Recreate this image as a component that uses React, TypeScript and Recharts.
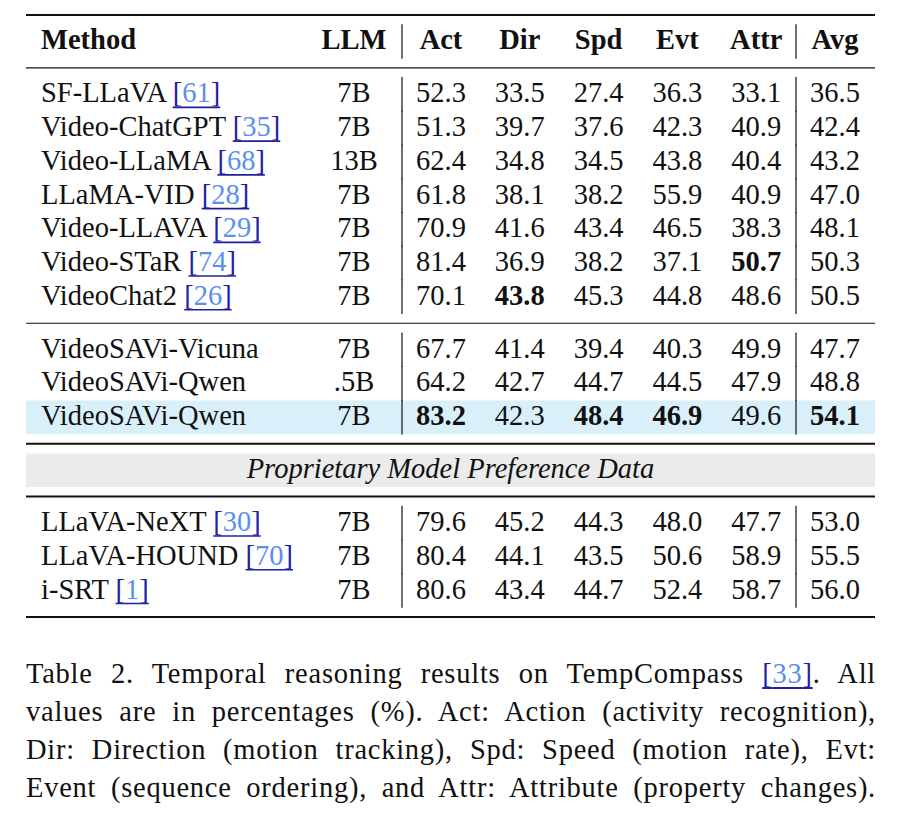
import { useLayoutEffect, useRef, useState } from "react";
import {
  ReferenceLine,
  Scatter,
  ScatterChart,
  XAxis,
  YAxis,
} from "recharts";

// Table contents.
const metricCols = ["Act", "Dir", "Spd", "Evt", "Attr", "Avg"];
const leftCols = ["Method", "LLM"];

const methods = [
  "SF-LLaVA",
  "Video-ChatGPT",
  "Video-LLaMA",
  "LLaMA-VID",
  "Video-LLAVA",
  "Video-STaR",
  "VideoChat2",
  "VideoSAVi-Vicuna",
  "VideoSAVi-Qwen",
  "VideoSAVi-Qwen",
  "LLaVA-NeXT",
  "LLaVA-HOUND",
  "i-SRT",
];
const cites = ["61", "35", "68", "28", "29", "74", "26", "", "", "", "30", "70", "1"];
const llms = ["7B", "7B", "13B", "7B", "7B", "7B", "7B", "7B", ".5B", "7B", "7B", "7B", "7B"];

const act = [52.3, 51.3, 62.4, 61.8, 70.9, 81.4, 70.1, 67.7, 64.2, 83.2, 79.6, 80.4, 80.6];
const dir = [33.5, 39.7, 34.8, 38.1, 41.6, 36.9, 43.8, 41.4, 42.7, 42.3, 45.2, 44.1, 43.4];
const spd = [27.4, 37.6, 34.5, 38.2, 43.4, 38.2, 45.3, 39.4, 44.7, 48.4, 44.3, 43.5, 44.7];
const evt = [36.3, 42.3, 43.8, 55.9, 46.5, 37.1, 44.8, 40.3, 44.5, 46.9, 48.0, 50.6, 52.4];
const attr = [33.1, 40.9, 40.4, 40.9, 38.3, 50.7, 48.6, 49.9, 47.9, 49.6, 47.7, 58.9, 58.7];
const avg = [36.5, 42.4, 43.2, 47.0, 48.1, 50.3, 50.5, 47.7, 48.8, 54.1, 53.0, 55.5, 56.0];

// best results shown in bold: [row, column]
const boldCells: [number, string][] = [
  [5, "Attr"],
  [6, "Dir"],
  [9, "Act"],
  [9, "Spd"],
  [9, "Evt"],
  [9, "Avg"],
];

// rows per block; the proprietary band sits between block 2 and block 3
const groupSizes = [7, 3, 3];
const bandTitle = "Proprietary Model Preference Data";
const highlightRow = 9;

const FONT = "'Liberation Serif', 'Times New Roman', Times, serif";
const FS = 28.5;
const INK = "#111";
const CITE_DARK = "#1f1fa6";
const CITE_LIGHT = "#5b8ef0";
const ROW_PX = 33.5; // shaded row height

// ---- vertical layout in "row units" (1 unit = one row pitch) ----
const GAP = 1.57;
const EDGE = 0.785;

const rowPos: number[] = [];
const rules: { y: number; w: number }[] = [{ y: -EDGE, w: 2 }];
let cur = 0;
let bandPos = 0;
groupSizes.forEach((size, g) => {
  if (g === 2) {
    rules.push({ y: cur + GAP / 2, w: 2 });
    cur += GAP;
    bandPos = cur;
  }
  rules.push({ y: cur + GAP / 2, w: g === 2 ? 2 : 1.2 });
  cur += GAP;
  for (let i = 0; i < size; i++) rowPos.push(cur + i);
  cur += size - 1;
});
rules.push({ y: cur + EDGE, w: 2 });
const yDomain = [-EDGE, cur + EDGE];

const metricValues = [act, dir, spd, evt, attr, avg];
const isBold = (row: number, col: string) =>
  boldCells.some(([br, bc]) => br === row && bc === col);

type CellDatum = {
  col: string;
  pos: number;
  label: string;
  bold: boolean;
  cite?: string;
};

const metricData: CellDatum[] = [
  ...metricCols.map((c) => ({ col: c, pos: 0, label: c, bold: true })),
  ...methods.flatMap((_, i) =>
    metricCols.map((c, j) => ({
      col: c,
      pos: rowPos[i],
      label: metricValues[j][i].toFixed(1),
      bold: isBold(i, c),
    }))
  ),
];

const leftData: CellDatum[] = [
  ...leftCols.map((c) => ({ col: c, pos: 0, label: c, bold: true })),
  ...methods.flatMap((m, i) => [
    { col: "Method", pos: rowPos[i], label: m, bold: false, cite: cites[i] },
    { col: "LLM", pos: rowPos[i], label: llms[i], bold: false },
  ]),
];

const BASE = 8; // text baseline below row centre
const HALF = 17.3; // half row height in px (vertical rules)

function MethodLabel({ x, y, name, cite, bold }: { x: number; y: number; name: string; cite?: string; bold: boolean }) {
  const ref = useRef<SVGTextElement>(null);
  const [u, setU] = useState<[number, number] | null>(null);
  useLayoutEffect(() => {
    if (!cite || !ref.current) return;
    const n = name.length + 1;
    try {
      const s = ref.current.getStartPositionOfChar(n).x;
      const w = ref.current.getSubStringLength(n, cite.length + 2);
      setU([s, w]);
    } catch (e) {
      setU(null);
    }
  }, [name, cite, x, y]);
  return (
    <g>
      <text
        ref={ref}
        x={x}
        y={y}
        fontFamily={FONT}
        fontSize={FS}
        fontWeight={bold ? 700 : 400}
        fill={INK}
      >
        {cite ? name + " " : name}
        {cite ? (
          <>
            <tspan fill={CITE_DARK}>[</tspan>
            <tspan fill={CITE_LIGHT}>{cite}</tspan>
            <tspan fill={CITE_DARK}>]</tspan>
          </>
        ) : null}
      </text>
      {u ? (
        <line x1={u[0]} x2={u[0] + u[1]} y1={y + 5} y2={y + 5} stroke={CITE_DARK} strokeWidth={1.6} />
      ) : null}
    </g>
  );
}

const renderMetric = (props: any) => {
  const { cx, cy, payload } = props;
  const d = payload as CellDatum;
  const rule = d.col === "Act" || d.col === "Avg";
  return (
    <g>
      {rule ? (
        <line x1={cx - 39} x2={cx - 39} y1={cy - HALF} y2={cy + HALF} stroke={INK} strokeWidth={1.2} />
      ) : null}
      <text
        x={cx}
        y={cy + BASE}
        textAnchor="middle"
        fontFamily={FONT}
        fontSize={FS}
        fontWeight={d.bold ? 700 : 400}
        fill={INK}
      >
        {d.label}
      </text>
    </g>
  );
};

const renderLeft = (props: any) => {
  const { cx, cy, payload } = props;
  const d = payload as CellDatum;
  if (d.col === "Method") {
    return <MethodLabel x={cx} y={cy + BASE} name={d.label} cite={d.cite} bold={d.bold} />;
  }
  return (
    <text
      x={cx}
      y={cy + BASE}
      textAnchor="middle"
      fontFamily={FONT}
      fontSize={FS}
      fontWeight={d.bold ? 700 : 400}
      fill={INK}
    >
      {d.label}
    </text>
  );
};

const renderBandLabel = (props: any) => {
  const vb = props.viewBox || {};
  return (
    <text
      x={vb.x + (vb.width || 0) / 2}
      y={vb.y + (vb.height || 0) / 2 + BASE}
      textAnchor="middle"
      fontFamily={FONT}
      fontSize={FS}
      fontStyle="italic"
      fill={INK}
    >
      {bandTitle}
    </text>
  );
};

const captionLine: React.CSSProperties = {
  textAlign: "justify",
  textAlignLast: "justify",
};

const Cite = ({ n }: { n: string }) => (
  <span style={{ color: CITE_DARK, textDecoration: "underline", textDecorationColor: CITE_DARK, textUnderlineOffset: 4 }}>
    [<span style={{ color: CITE_LIGHT }}>{n}</span>]
  </span>
);

export default function App() {
  return (
    <div style={{ width: 886, fontFamily: FONT, color: INK }}>
      <ScatterChart width={886} height={620} margin={{ top: 7, right: 19, bottom: 11, left: 18 }}>
        <XAxis
          xAxisId="m"
          dataKey="col"
          type="category"
          scale="point"
          allowDuplicatedCategory={false}
          padding={{ left: 415, right: 40 }}
          hide
        />
        <XAxis
          xAxisId="l"
          dataKey="col"
          type="category"
          scale="point"
          allowDuplicatedCategory={false}
          padding={{ left: 15, right: 521 }}
          hide
        />
        <YAxis dataKey="pos" type="number" domain={yDomain} reversed hide />
        {/* row shading: full-width bands one row tall */}
        <ReferenceLine
          xAxisId="m"
          y={rowPos[highlightRow]}
          stroke="#d9f0fa"
          strokeWidth={ROW_PX}
        />
        <ReferenceLine
          xAxisId="m"
          y={bandPos}
          stroke="#ebebeb"
          strokeWidth={ROW_PX}
          label={renderBandLabel}
        />
        {rules.map((rl, i) => (
          <ReferenceLine key={i} xAxisId="m" y={rl.y} stroke={INK} strokeWidth={rl.w} />
        ))}
        <Scatter xAxisId="m" data={metricData} shape={renderMetric} isAnimationActive={false} />
        <Scatter xAxisId="l" data={leftData} shape={renderLeft} isAnimationActive={false} />
      </ScatterChart>
      <div
        style={{
          width: 850,
          marginLeft: 18,
          marginTop: 27,
          fontSize: FS,
          lineHeight: "38px",
          letterSpacing: 0.75,
        }}
      >
        <div style={captionLine}>
          Table 2. Temporal reasoning results on TempCompass <Cite n="33" />. All
        </div>
        <div style={captionLine}>values are in percentages (%). Act: Action (activity recognition),</div>
        <div style={captionLine}>Dir: Direction (motion tracking), Spd: Speed (motion rate), Evt:</div>
        <div style={captionLine}>Event (sequence ordering), and Attr: Attribute (property changes).</div>
      </div>
    </div>
  );
}
